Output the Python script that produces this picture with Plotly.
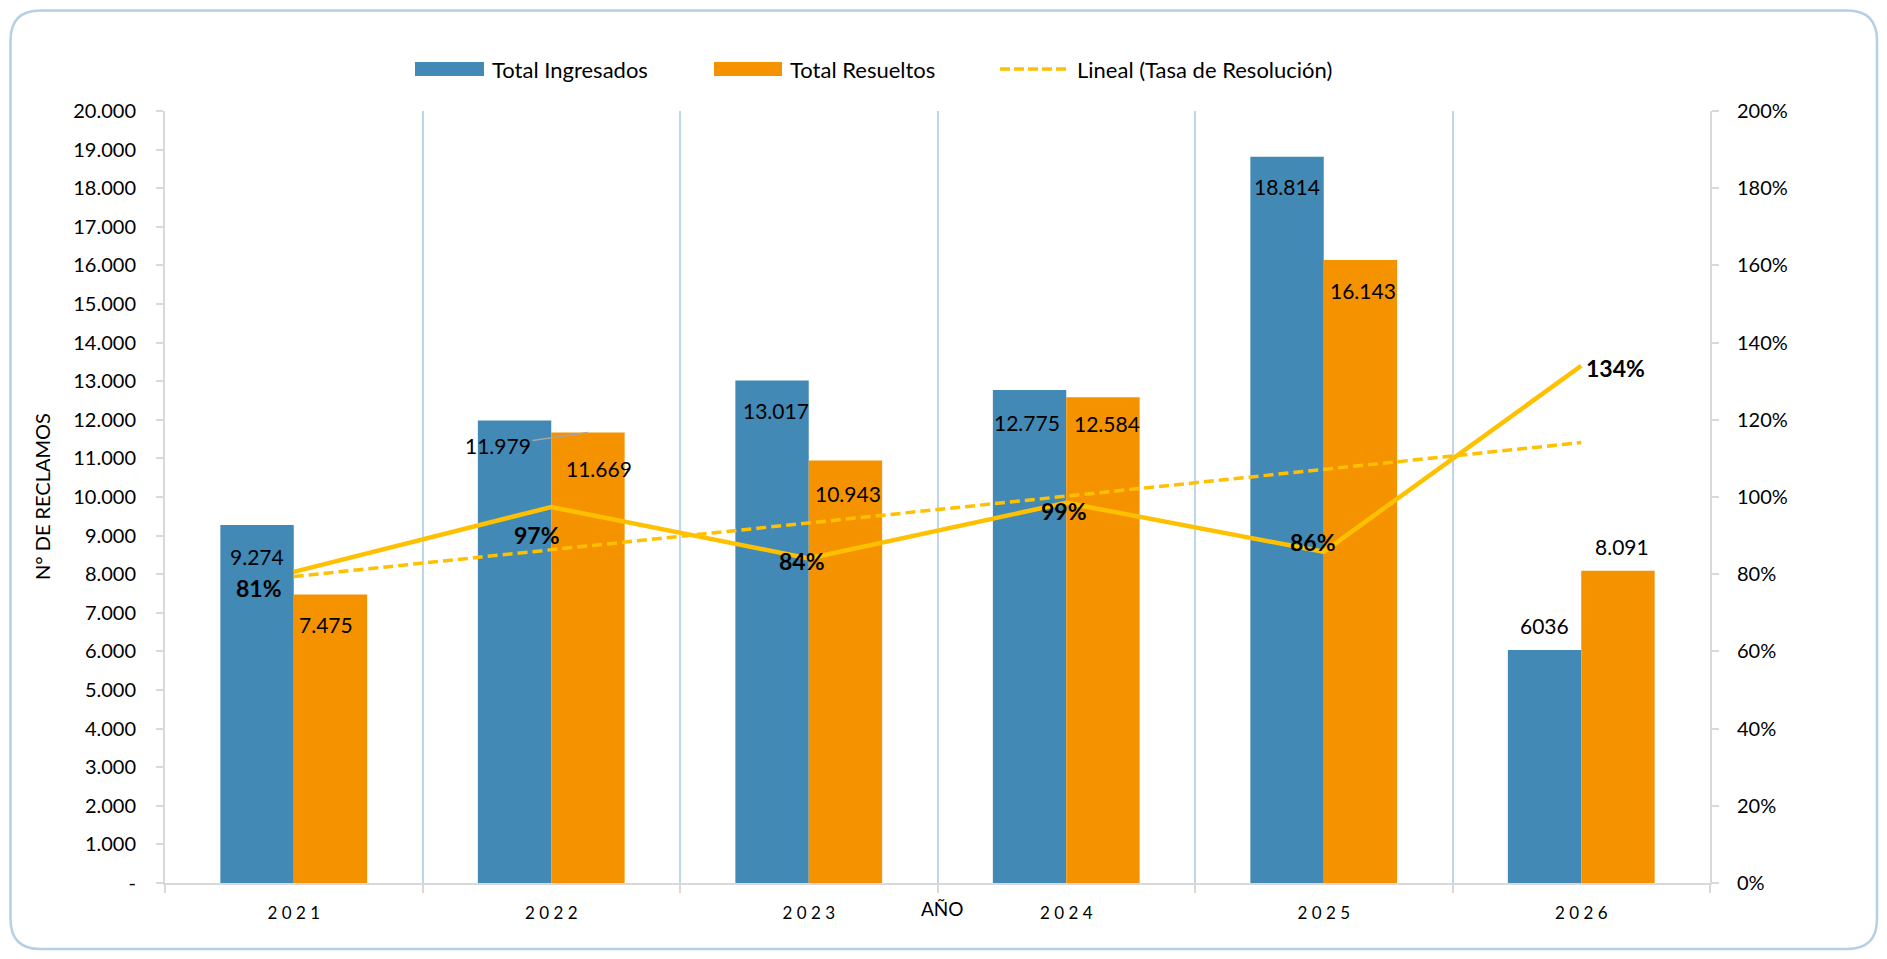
import plotly.graph_objects as go

# data ------------------------------------------------------------------------
years = ["2021", "2022", "2023", "2024", "2025", "2026"]
ingresados = [9274, 11979, 13017, 12775, 18814, 6036]
resueltos = [7475, 11669, 10943, 12584, 16143, 8091]
ingresados_txt = ["9.274", "11.979", "13.017", "12.775", "18.814", "6036"]
resueltos_txt = ["7.475", "11.669", "10.943", "12.584", "16.143", "8.091"]
tasa = [0.806, 0.974, 0.841, 0.985, 0.858, 1.340]
tasa_txt = ["81%", "97%", "84%", "99%", "86%", "134%"]
lineal_years = ["2021", "2026"]
lineal = [0.794, 1.141]
left_ticks = list(range(0, 20001, 1000))
left_ticktext = ["-"] + [f"{v:,}".replace(",", ".") for v in left_ticks[1:]]
right_ticks = [i / 10 for i in range(0, 21, 2)]

# styles ----------------------------------------------------------------------
BLUE, ORANGE, GOLD = "#4289B5", "#F59200", "#FFC000"
GRID, AXIS, FRAME = "#BDD7EA", "#D9D9D9", "#B4D0E4"
FONT = "Lato"
W, H = 1871, 943
L, R, T, B = 157, 169, 103, 68
HALF = 36.7  # half bar width in px

# label offsets (px): x shift, y shift
ing_dx = [0, 0, 4, -3, 0, 0]
ing_dy = [-31, 0, -30, -33, -30, 25]
res_dx = [-4, 11, 3, 4, 3, 4]
res_dy = [-30, -36, -33, -26, -31, 24]
tasa_dx = [-35, -14, -7, -2, -11, 34]
tasa_dy = [-16, -28, -3, -8, 10, -2]


def px(x, y):
    return (x - L) / (W - L - R), (H - B - y) / (H - T - B)


fig = go.Figure()
fig.add_trace(go.Bar(x=years, y=ingresados, name="Total Ingresados",
                     marker=dict(color=BLUE, line=dict(width=0)),
                     showlegend=False, hoverinfo="skip"))
fig.add_trace(go.Bar(x=years, y=resueltos, name="Total Resueltos",
                     marker=dict(color=ORANGE, line=dict(width=0)),
                     showlegend=False, hoverinfo="skip"))
fig.add_trace(go.Scatter(x=years, y=tasa, yaxis="y2", mode="lines",
                         name="Tasa de Resolución",
                         line=dict(color=GOLD, width=4.5),
                         showlegend=False, hoverinfo="skip"))
fig.add_trace(go.Scatter(x=lineal_years, y=lineal, yaxis="y2", mode="lines",
                         name="Lineal (Tasa de Resolución)",
                         line=dict(color=GOLD, width=3.5, dash="10px,5px"),
                         showlegend=False, hoverinfo="skip"))

ann = []
lbl_font = dict(family=FONT, size=21, color="black")
leg_font = dict(family=FONT, size=22, color="black")
for i, yr in enumerate(years):
    # category axis: annotations positioned by category index
    if i == 1:
        # label moved to the left with a leader line
        ann.append(dict(x=i, y=resueltos[i], xref="x", yref="y",
                        xshift=HALF, text=ingresados_txt[i], showarrow=True,
                        arrowhead=0, arrowwidth=1.5, arrowcolor="#A6A6A6",
                        ax=-90, ay=13, standoff=0, font=lbl_font))
    else:
        ann.append(dict(x=i, y=ingresados[i], xref="x", yref="y",
                        xshift=-HALF + ing_dx[i], yshift=ing_dy[i],
                        text=ingresados_txt[i], showarrow=False, font=lbl_font))
    ann.append(dict(x=i, y=resueltos[i], xref="x", yref="y",
                    xshift=HALF + res_dx[i], yshift=res_dy[i],
                    text=resueltos_txt[i], showarrow=False, font=lbl_font))
    ann.append(dict(x=i, y=tasa[i], xref="x", yref="y2",
                    xshift=tasa_dx[i], yshift=tasa_dy[i],
                    text="<b>" + tasa_txt[i] + "</b>", showarrow=False,
                    font=dict(family=FONT, size=23, color="black")))

# axis titles
ax_x, ax_y = px(934, 901)
ann.append(dict(x=ax_x, y=ax_y, xref="paper", yref="paper", text="AÑO",
                xanchor="center", yanchor="middle", showarrow=False,
                font=dict(family=FONT, size=19, color="black")))
tx, _ = px(34, 0)
ann.append(dict(x=tx, y=0.5, xref="paper", yref="paper", text="N° DE RECLAMOS",
                textangle=-90, xanchor="center", yanchor="middle",
                showarrow=False, font=dict(family=FONT, size=20, color="black")))

# manual legend
shapes = []
legend_y = 61
for (x0, x1, col, label) in [(407, 476, BLUE, "Total Ingresados"),
                             (706, 774, ORANGE, "Total Resueltos")]:
    a, b = px(x0, legend_y - 7)
    c, d = px(x1, legend_y + 7)
    shapes.append(dict(type="rect", xref="paper", yref="paper", x0=a, y0=b,
                       x1=c, y1=d, fillcolor=col, line=dict(width=0)))
    tx, ty = px(x1 + 6, legend_y)
    ann.append(dict(x=tx, y=ty, xref="paper", yref="paper", text=label,
                    xanchor="left", yanchor="middle", showarrow=False,
                    font=leg_font))
a, b = px(992, legend_y)
c, _ = px(1061, legend_y)
shapes.append(dict(type="line", xref="paper", yref="paper", x0=a, y0=b, x1=c,
                   y1=b, line=dict(color=GOLD, width=3.5, dash="10px,4px")))
tx, ty = px(1067, legend_y)
ann.append(dict(x=tx, y=ty, xref="paper", yref="paper",
                text="Lineal (Tasa de Resolución)", xanchor="left",
                yanchor="middle", showarrow=False, font=leg_font))

# rounded outer frame
x0, y0, x1, y1, r = 2.5, 2.5, W - 2, H - 2, 30


def p(x, y):
    u, v = px(x, y)
    return f"{u:.5f},{v:.5f}"


path = (f"M {p(x0 + r, y0)} L {p(x1 - r, y0)} Q {p(x1, y0)} {p(x1, y0 + r)} "
        f"L {p(x1, y1 - r)} Q {p(x1, y1)} {p(x1 - r, y1)} "
        f"L {p(x0 + r, y1)} Q {p(x0, y1)} {p(x0, y1 - r)} "
        f"L {p(x0, y0 + r)} Q {p(x0, y0)} {p(x0 + r, y0)} Z")
shapes.append(dict(type="path", xref="paper", yref="paper", path=path,
                   line=dict(color=FRAME, width=2.5)))

fig.update_layout(
    width=W, height=H,
    margin=dict(l=L, r=R, t=T, b=B, autoexpand=False),
    paper_bgcolor="white", plot_bgcolor="white",
    font=dict(family=FONT, size=20, color="black"),
    barmode="group", bargap=0.43, bargroupgap=0,
    annotations=ann, shapes=shapes, showlegend=False,
    xaxis=dict(type="category", tickson="boundaries", range=[-0.5, 5.5],
               tickmode="array", tickvals=years,
               ticktext=[" ".join(y) for y in years],
               showgrid=True, gridcolor=GRID, gridwidth=2,
               showline=True, linecolor=AXIS, linewidth=2,
               ticks="outside", ticklen=8, tickcolor=AXIS, tickwidth=2,
               ticklabelstandoff=14, tickfont=dict(size=17), fixedrange=True),
    yaxis=dict(range=[0, 20000], tickmode="array", tickvals=left_ticks,
               ticktext=left_ticktext, showgrid=False, zeroline=False,
               showline=True, linecolor=AXIS, linewidth=2,
               ticks="outside", ticklen=7, tickcolor=AXIS, tickwidth=2,
               ticklabelstandoff=16, tickfont=dict(size=20)),
    yaxis2=dict(range=[0, 2], overlaying="y", side="right",
                tickmode="array", tickvals=right_ticks, tickformat=".0%",
                showgrid=False, zeroline=False,
                showline=True, linecolor=AXIS, linewidth=2,
                ticks="outside", ticklen=7, tickcolor=AXIS, tickwidth=2,
                ticklabelstandoff=14, tickfont=dict(size=20)),
)

fig.write_html("out.html")
